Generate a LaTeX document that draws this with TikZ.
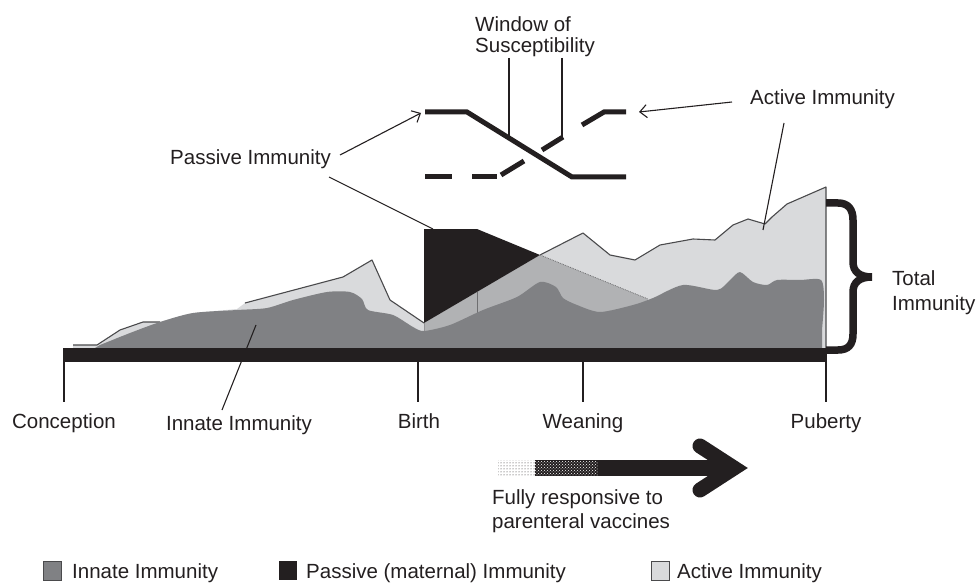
\documentclass[tikz,border=0pt]{standalone}
\usepackage{fontspec}
\setmainfont{Liberation Sans}
\usetikzlibrary{arrows.meta,patterns}
\definecolor{innate}{HTML}{808184}
\definecolor{active}{HTML}{D9DADC}
\definecolor{medgr}{HTML}{B1B2B4}
\definecolor{blk}{HTML}{231F20}
\definecolor{outl}{HTML}{4A4A4C}
\tikzset{
 lbl/.style={font=\fontsize{20.5}{23}\selectfont, inner sep=0pt, text=blk},
 leader/.style={draw=blk, line width=1.1pt},
 arr/.style={leader, -{Straight Barb[length=7pt,width=13pt,line width=1.1pt]}},
 fat/.style={draw=blk, line width=5pt},
 tick/.style={draw=blk, line width=1.6pt},
 legbox/.style={draw=outl, line width=0.8pt},
}
\begin{document}
\begin{tikzpicture}[x=1pt,y=-1pt]
\useasboundingbox (0,0) rectangle (978,583);

% ---------- active immunity (light grey)
\fill[active] (73,348) -- (73,345) -- (97,345) -- (120,330) -- (143,322) -- (160,322) -- (193,313) -- (237,309)
 -- (245,303) -- (343,277) -- (372,260) -- (390,300) -- (424,323) -- (540,255) -- (583,233) -- (610,255)
 -- (635,260) -- (660,245) -- (693,239) -- (715,240) -- (733,225) -- (748,219) -- (765,224) -- (772,217)
 -- (787,204) -- (826,187) -- (826,348) -- cycle;
\draw[outl, line width=1.1pt, line join=round] (73,345) -- (97,345) -- (120,330) -- (143,322) -- (160,322);
\draw[outl, line width=1.1pt, line join=round] (245,303) -- (343,277) -- (372,260) -- (390,300) -- (424,323);
\draw[outl, line width=1.1pt, line join=round] (540,255) -- (583,233) -- (610,255)
 -- (635,260) -- (660,245) -- (693,239) -- (715,240) -- (733,225) -- (748,219) -- (765,224) -- (772,217)
 -- (787,204) -- (826,187) -- (826,348);

% ---------- declining passive (medium grey)
\fill[medgr] (424,323) -- (540,255) -- (648,299) -- (648,348) -- (424,348) -- cycle;
\draw[outl!80, line width=0.8pt, densely dotted] (540,255) -- (648,299);
\draw[outl!80, line width=0.8pt] (477,292) -- (477,340);
\draw[outl!60, line width=0.8pt] (424,323) -- (424,340);

% ---------- innate immunity (dark grey)
\fill[innate] (95,348) -- plot[smooth,tension=0.45] coordinates {
 (100,345) (130,333) (160,322) (193,313) (237,310) (267,308) (293,300) (327,292) (350,292) (362,299)
 (368,310) (393,315) (413,327) (424,331) (450,325) (483,310) (517,297) (540,282) (556,287) (563,298)
 (577,305) (600,312) (633,305) (653,298) (683,285) (717,290) (730,280) (740,272) (753,282) (767,285)
 (777,280) (800,280) (821,280) (824,300) (822,330)} -- (822,348) -- cycle;

% ---------- passive immunity (black)
\fill[blk] (424,229) -- (477,229) -- (540,255) -- (424,323) -- cycle;

% ---------- time axis
\fill[blk] (63,348) rectangle (827,362);
\coordinate (tC) at (64,362);  \coordinate (tCb) at (64,402);
\coordinate (tB) at (418,362); \coordinate (tBb) at (418,402);
\coordinate (tW) at (583,362); \coordinate (tWb) at (583,402);
\coordinate (tP) at (826,362); \coordinate (tPb) at (826,402);
\draw[tick] (tC) -- (tCb);
\draw[tick] (tB) -- (tBb);
\draw[tick] (tW) -- (tWb);
\draw[tick] (tP) -- (tPb);

\node[lbl, anchor=base] (conc) at (64,428) {Conception};
\node[lbl, anchor=base] (innl) at (239,430) {Innate Immunity};
\node[lbl, anchor=base] (birth) at (419,428) {Birth};
\node[lbl, anchor=base] (wean) at (583,428) {Weaning};
\node[lbl, anchor=base] (pub) at (826,428) {Puberty};

\coordinate (innTop) at (256,325);
\coordinate (innBot) at (222,410);
\draw[leader] (innTop) -- (innBot);

% ---------- brace
\draw[blk, line width=7.5pt] (826,203) -- (838,203) .. controls (848,203) and (853,209) .. (853,220)
 -- (853,262) .. controls (853,272) and (860,277) .. (872,277)
 .. controls (860,277) and (853,282) .. (853,292) -- (853,334)
 .. controls (853,345) and (848,350) .. (838,350) -- (826,350);
\node[lbl, anchor=base west] (tot1) at (892,285) {Total};
\node[lbl, anchor=base west] (tot2) at (892,310) {Immunity};

% ---------- inset: window of susceptibility
\draw[fat, line join=miter] (425,112) -- (467,112) -- (572,177) -- (626,177);
\draw[fat] (425,177) -- (452,177);
\draw[fat] (472,177) -- (497,177);
\draw[fat] (501,175) -- (524,161);
\draw[fat] (542,150) -- (563,137);
\draw[fat, line join=miter] (582,125) -- (604,112) -- (626,112);

\node[lbl, anchor=base west] (win1) at (475,32) {Window of};
\node[lbl, anchor=base west] (win2) at (475,53) {Susceptibility};
\coordinate (wl1) at (509,58); \coordinate (wl2) at (509,136);
\coordinate (wr1) at (562,58); \coordinate (wr2) at (562,137);
\draw[leader] (wl1) -- (wl2);
\draw[leader] (wr1) -- (wr2);

\node[lbl, anchor=base west] (pasl) at (170,165) {Passive Immunity};
\coordinate (pa1) at (340,155); \coordinate (pa2) at (421,113);
\coordinate (pb1) at (329,177); \coordinate (pb2) at (433,229);
\draw[arr] (pa1) -- (pa2);
\draw[leader] (pb1) -- (pb2);

\node[lbl, anchor=base west] (actl) at (750,105) {Active Immunity};
\coordinate (aa1) at (732,102); \coordinate (aa2) at (639,112);
\coordinate (ab1) at (784,123); \coordinate (ab2) at (763,230);
\draw[arr] (aa1) -- (aa2);
\draw[leader] (ab1) -- (ab2);

% ---------- vaccine arrow
\fill[pattern=dots, pattern color=blk] (498,460) rectangle (535,476);
\fill[blk] (535,460) rectangle (598,476);
\fill[pattern=crosshatch dots, pattern color=white] (535,461) rectangle (598,475);
\fill[blk] (598,460) rectangle (736,476);
\draw[blk, line width=15pt, line cap=round, line join=miter] (700,446) -- (734,468) -- (700,490);
\node[lbl, anchor=base west] (vac1) at (492,504) {Fully responsive to};
\node[lbl, anchor=base west] (vac2) at (492,528) {parenteral vaccines};

% ---------- legend
\filldraw[legbox, fill=innate] (43,561) rectangle (61,580);
\node[lbl, anchor=base west] (leg1) at (72,578) {Innate Immunity};
\fill[blk] (279,561) rectangle (297,580);
\node[lbl, anchor=base west] (leg2) at (306,578) {Passive (maternal) Immunity};
\filldraw[legbox, fill=active] (651,561) rectangle (669,580);
\node[lbl, anchor=base west] (leg3) at (677,578) {Active Immunity};
\end{tikzpicture}
\end{document}
